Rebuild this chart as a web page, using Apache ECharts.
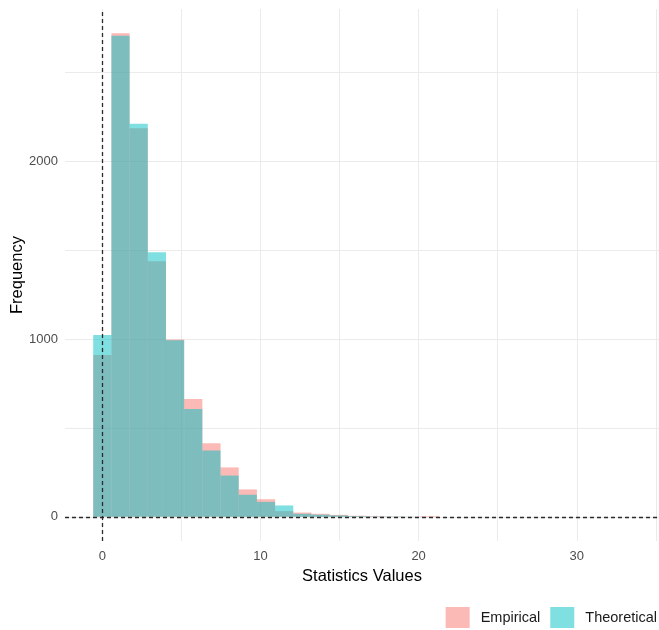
<!DOCTYPE html>
<html>
<head>
<meta charset="utf-8">
<title>Statistics histogram</title>
<script src="https://cdn.jsdelivr.net/npm/echarts@6/dist/echarts.min.js"></script>
<style>
  html, body { margin: 0; padding: 0; background: #ffffff; }
  #chart { width: 659px; height: 630px; }
</style>
</head>
<body>
<div id="chart"></div>
<script>
// Histogram bins (centre of each bin on the statistic scale)
const binWidth = 1.15;
const binCenters = [0, 1.15, 2.3, 3.45, 4.6, 5.75, 6.9, 8.05, 9.2, 10.35,
                    11.5, 12.65, 13.8, 14.95, 16.1, 17.25, 18.4, 19.55, 20.7];

// Counts per bin
const empiricalCounts   = [910, 2720, 2185, 1438, 997, 663, 414, 278, 154, 99,
                           32, 24, 17, 11, 6, 4, 2, 1, 4];
const theoreticalCounts = [1022, 2705, 2210, 1488, 993, 607, 373, 232, 124, 84,
                           64, 17, 12, 8, 4, 2, 2, 1, 0];

const seriesNames = ['Empirical', 'Theoretical'];
const seriesColors = ['rgba(248,118,109,0.5)', 'rgba(0,191,196,0.5)'];

const FONT = "'Liberation Sans', Arial, sans-serif";

function histogramData(counts) {
  return binCenters.map((c, i) => [c - binWidth / 2, c + binWidth / 2, counts[i]]);
}

function renderBin(params, api) {
  const x0 = api.value(0), x1 = api.value(1), h = api.value(2);
  if (!h) return null;
  const p0 = api.coord([x0, 0]);
  const p1 = api.coord([x1, h]);
  return {
    type: 'rect',
    shape: { x: p0[0], y: p1[1], width: p1[0] - p0[0], height: p0[1] - p1[1] },
    style: { fill: api.visual('color') }
  };
}

const chart = echarts.init(document.getElementById('chart'), null, { renderer: 'canvas' });

chart.setOption({
  animation: false,
  backgroundColor: '#ffffff',
  textStyle: { fontFamily: FONT },
  grid: { left: 65, right: 0, top: 9, bottom: 89, containLabel: false, outerBoundsMode: 'none' },
  legend: {
    data: seriesNames,
    right: 2,
    bottom: 2,
    padding: 0,
    icon: 'rect',
    itemWidth: 24,
    itemHeight: 21,
    itemGap: 10,
    textStyle: { fontFamily: FONT, fontSize: 14.5, color: '#1a1a1a', padding: [0, 0, 0, 6] }
  },
  xAxis: {
    type: 'value',
    min: -2.36,
    max: 35.2,
    splitNumber: 8,
    name: 'Statistics Values',
    nameLocation: 'middle',
    nameGap: 27,
    nameMoveOverlap: false,
    nameTextStyle: { fontFamily: FONT, fontSize: 16.5, color: '#000000' },
    axisLine: { show: false },
    axisTick: { show: false },
    axisLabel: {
      margin: 9,
      fontFamily: FONT,
      fontSize: 13,
      color: '#4d4d4d',
      showMinLabel: false,
      showMaxLabel: false,
      formatter: v => (v % 10 === 0 ? String(v) : '')
    },
    splitLine: {
      show: true,
      showMinLine: false,
      showMaxLine: false,
      lineStyle: { color: '#ebebeb', width: 1 }
    }
  },
  yAxis: {
    type: 'value',
    min: -136,
    max: 2856,
    splitNumber: 5,
    name: 'Frequency',
    nameLocation: 'middle',
    nameGap: 39,
    nameMoveOverlap: false,
    nameTextStyle: { fontFamily: FONT, fontSize: 16.5, color: '#000000' },
    axisLine: { show: false },
    axisTick: { show: false },
    axisLabel: {
      margin: 7,
      fontFamily: FONT,
      fontSize: 13,
      color: '#4d4d4d',
      showMinLabel: false,
      showMaxLabel: false,
      formatter: v => (v % 1000 === 0 ? String(v) : '')
    },
    splitLine: {
      show: true,
      showMinLine: false,
      showMaxLine: false,
      lineStyle: { color: '#ebebeb', width: 1 }
    }
  },
  series: [
    {
      name: seriesNames[0],
      type: 'custom',
      renderItem: renderBin,
      itemStyle: { color: seriesColors[0] },
      encode: { x: [0, 1], y: 2 },
      data: histogramData(empiricalCounts),
      z: 2
    },
    {
      name: seriesNames[1],
      type: 'custom',
      renderItem: renderBin,
      itemStyle: { color: seriesColors[1] },
      encode: { x: [0, 1], y: 2 },
      data: histogramData(theoreticalCounts),
      z: 3
    },
    {
      // Dashed reference lines at x = 0 and y = 0
      name: 'ref',
      type: 'line',
      data: [],
      z: 10,
      silent: true,
      markLine: {
        silent: true,
        symbol: ['none', 'none'],
        label: { show: false },
        lineStyle: { color: '#2b2b2b', type: [4, 3], width: 1.3 },
        data: [{ xAxis: 0 }, { yAxis: 0 }]
      }
    }
  ]
});
</script>
</body>
</html>
